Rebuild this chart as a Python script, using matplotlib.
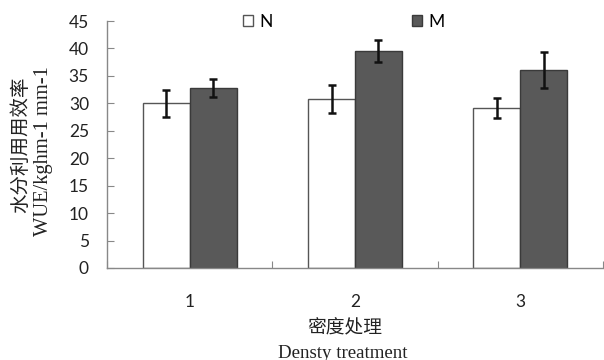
import matplotlib
matplotlib.use("Agg")
import matplotlib.pyplot as plt
from matplotlib.patches import Patch
import numpy as np

categories = ["1", "2", "3"]
n_values = [30.0, 30.8, 29.1]
n_errors = [2.5, 2.6, 1.8]
m_values = [32.8, 39.5, 36.1]
m_errors = [1.7, 2.0, 3.3]
y_ticks = [0, 5, 10, 15, 20, 25, 30, 35, 40, 45]

fig = plt.figure(figsize=(6.04, 3.6), dpi=100)
ax = fig.add_axes([107/604, 1-268/360, 496/604, 247/360])

x = np.arange(1, len(categories) + 1)
w = 0.284
ax.bar(x - w/2, n_values, w, color="white", edgecolor="#555555", linewidth=1.0, zorder=2)
ax.bar(x + w/2, m_values, w, color="#595959", edgecolor="#3a3a3a", linewidth=1.0, zorder=2)
ax.errorbar(x - w/2, n_values, yerr=n_errors, fmt="none", ecolor="#111111",
            elinewidth=1.8, capsize=3, capthick=1.8, zorder=3)
ax.errorbar(x + w/2, m_values, yerr=m_errors, fmt="none", ecolor="#111111",
            elinewidth=1.8, capsize=3, capthick=1.8, zorder=3)

ax.set_xlim(0.5, 3.5)
ax.set_ylim(0, 45)
ax.set_yticks(y_ticks)
ax.set_xticks([0.5, 1.5, 2.5, 3.5])
ax.set_xticklabels([])
ax.set_xticks(x, minor=True)
ax.set_xticklabels(categories, minor=True)
ax.tick_params(axis="x", which="major", direction="in", length=5, color="#888888")
ax.tick_params(axis="x", which="minor", length=0, pad=19)
ax.tick_params(axis="y", direction="in", length=5, color="#888888", pad=13)
for lab in ax.get_yticklabels() + ax.get_xticklabels(minor=True):
    lab.set_fontfamily("Lato")
    lab.set_fontsize(12.5)
    lab.set_color("#222222")

for s in ["top", "right"]:
    ax.spines[s].set_visible(False)
for s in ["left", "bottom"]:
    ax.spines[s].set_color("#888888")
    ax.spines[s].set_linewidth(1.0)

# y label (two lines)
fig.text(21/604, 1-145/360, "水分利用用效率", rotation=90, ha="center", va="center",
         fontsize=14, family=["Noto Sans CJK SC"], color="#222222")
fig.text(44/604, 1-151/360, "WUE/kghm-1 mm-1", rotation=90, ha="center", va="center",
         fontsize=14.8, family=["Liberation Serif"], color="#222222")
# x label (two lines)
fig.text(345/604, 1-328/360, "密度处理", ha="center", va="center",
         fontsize=13.5, family=["Noto Sans CJK SC"], color="#222222")
fig.text(343/604, 1-353/360, "Densty treatment", ha="center", va="center",
         fontsize=13.6, family=["Liberation Serif"], color="#222222")

handles = [Patch(facecolor="white", edgecolor="#555555", linewidth=1.0),
           Patch(facecolor="#595959", edgecolor="#3a3a3a", linewidth=1.0)]
leg = ax.legend(handles, ["N", "M"], ncol=2, loc="center left",
                bbox_to_anchor=((243-107)/496, (268-22)/247), frameon=False,
                handlelength=0.6, handleheight=0.6, handletextpad=0.35,
                columnspacing=8.0, borderaxespad=0, borderpad=0,
                prop={"family": "Lato", "size": 12.5})

fig.savefig("out.png", dpi=100)
